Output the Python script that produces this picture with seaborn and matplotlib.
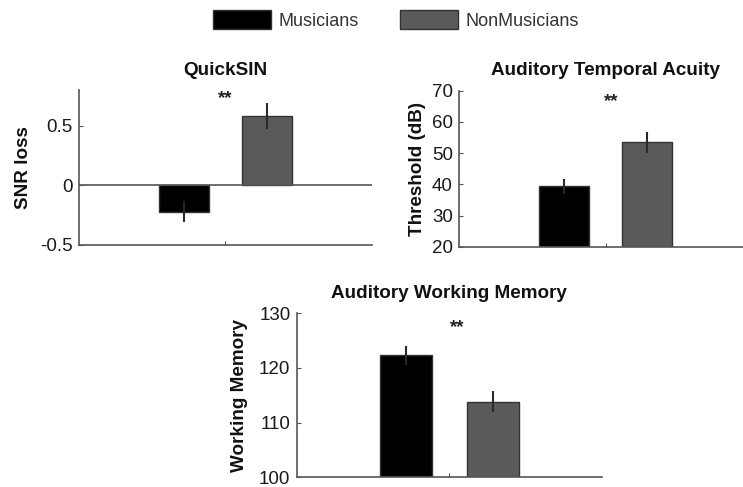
import numpy as np
import pandas as pd
import matplotlib
matplotlib.use("Agg")
import matplotlib.pyplot as plt
import seaborn as sns
from matplotlib.patches import Patch

sns.set_theme(style="white")
plt.rcParams['font.family'] = ['Liberation Sans', 'DejaVu Sans']

groups = ["Musicians", "NonMusicians"]
group_colors = ["#000000", "#5a5a5a"]

quicksin_mean = [-0.22, 0.58]
quicksin_se = [0.09, 0.11]
temporal_mean = [39.3, 53.4]
temporal_se = [2.4, 3.3]
memory_mean = [122.3, 113.8]
memory_se = [1.8, 1.9]

panels = [
    dict(title="QuickSIN", ylabel="SNR loss", mean=quicksin_mean, se=quicksin_se,
         ylim=(-0.5, 0.8), yticks=[-0.5, 0, 0.5], yticklabels=["-0.5", "0", "0.5"],
         pos=[79/743, 1-245/487, 293/743, 155/487], star=(0.0, 0.916), lab=-0.191, zero=True, pad=10.8),
    dict(title="Auditory Temporal Acuity", ylabel="Threshold (dB)", mean=temporal_mean, se=temporal_se,
         ylim=(20, 70), yticks=[20, 30, 40, 50, 60, 70], yticklabels=["20", "30", "40", "50", "60", "70"],
         pos=[459/743, 1-246.7/487, 293/743, 156/487], star=(0.02, 0.90), lab=-0.143, zero=False, pad=11.3),
    dict(title="Auditory Working Memory", ylabel="Working Memory", mean=memory_mean, se=memory_se,
         ylim=(100, 130), yticks=[100, 110, 120, 130], yticklabels=["100", "110", "120", "130"],
         pos=[296.7/743, 1-477.3/487, 305.3/743, 164/487], star=(0.025, 0.886), lab=-0.186, zero=False, pad=10.8),
]

fig = plt.figure(figsize=(7.43, 4.87), dpi=100)
spine_col = "#555555"

for p in panels:
    ax = fig.add_axes(p["pos"])
    df = pd.DataFrame({"task": [p["title"]] * 2, "group": groups, "value": p["mean"]})
    sns.barplot(data=df, x="task", y="value", hue="group", hue_order=groups,
                palette=group_colors, width=0.57, gap=0.4, errorbar=None,
                legend=False, ax=ax, edgecolor="#333333", linewidth=1.0, saturation=1)
    for cont, se in zip(ax.containers, p["se"]):
        for bar in cont:
            xc = bar.get_x() + bar.get_width() / 2
            h = bar.get_y() + bar.get_height()
            ax.errorbar(xc, h, yerr=se, fmt="none", ecolor="#2a2a2a", elinewidth=1.5, capsize=0, zorder=3)
    if p["zero"]:
        ax.axhline(0, color=spine_col, lw=1.2, zorder=1)
    ax.set_xlim(-0.5, 0.5)
    ax.set_ylim(*p["ylim"])
    ax.set_yticks(p["yticks"])
    ax.set_yticklabels(p["yticklabels"])
    ax.set_xticks([0])
    ax.set_xticklabels([""])
    ax.set_xlabel("")
    ax.tick_params(axis="both", direction="in", length=3, width=0.8, color=spine_col,
                   labelsize=13.5, pad=4.5, labelcolor="#1a1a1a")
    ax.tick_params(axis="y", left=True)
    ax.tick_params(axis="x", bottom=True)
    for s in ["top", "right"]:
        ax.spines[s].set_visible(False)
    for s in ["left", "bottom"]:
        ax.spines[s].set_color(spine_col)
        ax.spines[s].set_linewidth(1.2)
    ax.set_title(p["title"], fontsize=13.6, fontweight="bold", pad=p["pad"], color="#111111")
    ax.set_ylabel(p["ylabel"], fontsize=13.6, fontweight="bold", color="#111111", va="center")
    ax.yaxis.set_label_coords(p["lab"], 0.5)
    ax.text(p["star"][0], p["star"][1], "**", transform=ax.get_xaxis_transform(),
            ha="center", va="baseline", fontsize=13.5, fontweight="bold", color="#222222")
    ax.set_facecolor("none")

handles = [Patch(facecolor=c, edgecolor="#333333", linewidth=1.0) for c in group_colors]
fig.legend(handles, groups, loc="center", bbox_to_anchor=(396/743, 1-20/487), ncol=2,
           frameon=False, fontsize=13, handlelength=3.2, handleheight=1.2,
           handletextpad=0.4, columnspacing=2.3, labelcolor="#333333")

fig.savefig("out.png", dpi=100)
